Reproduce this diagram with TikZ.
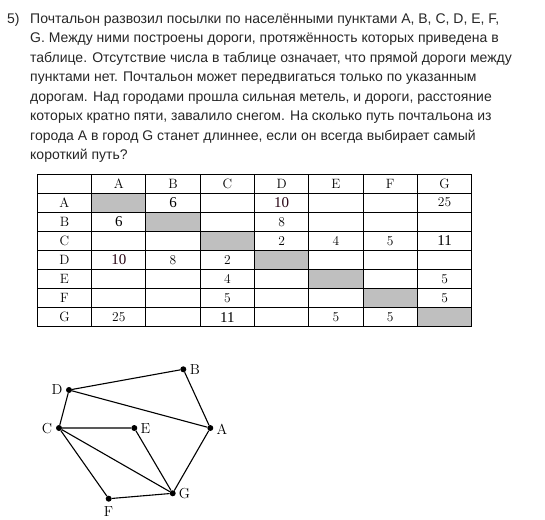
\documentclass[tikz,border=0pt]{standalone}
\usepackage{fontspec}
\setsansfont{Liberation Sans}
\newfontfamily\tnr{Liberation Serif}
\definecolor{maroonish}{RGB}{40,5,20}
\begin{document}
\begin{tikzpicture}[x=1pt,y=-1pt,
  qline/.style={anchor=base west,font=\sffamily\fontsize{14}{14}\selectfont,inner sep=0pt,text=black!85},
  cell/.style={font=\fontsize{13.5}{13.5}\selectfont,inner sep=0pt},
  bigcell/.style={font=\tnr\fontsize{15}{15}\selectfont,inner sep=0pt},
  vtx/.style={circle,fill=black,inner sep=0pt,minimum size=6pt},
  vlab/.style={font=\fontsize{14.5}{14.5}\selectfont,inner sep=0pt},
  edge/.style={line width=1.1pt},
  tline/.style={line width=0.9pt}]
\useasboundingbox (0,0) rectangle (545,519);
% question text
\node[qline] (num) at (7,23.3) {5)};
\node[qline] (l1) at (30,23.3) {Почтальон развозил посылки по населёнными пунктами A, B, C, D, E, F,};
\node[qline] (l2) at (30,42.8) {G. Между ними построены дороги, протяжённость которых приведена в};
\node[qline] (l3) at (30,62.3) {таблице. Отсутствие числа в таблице означает, что прямой дороги между};
\node[qline] (l4) at (30,81.8) {пунктами нет. Почтальон может передвигаться только по указанным};
\node[qline] (l5) at (30,101.3) {дорогам. Над городами прошла сильная метель, и дороги, расстояние};
\node[qline] (l6) at (30,120.8) {которых кратно пяти, завалило снегом. На сколько путь почтальона из};
\node[qline] (l7) at (30,140.3) {города A в город G станет длиннее, если он всегда выбирает самый};
\node[qline] (l8) at (30,159.8) {короткий путь?};
% table geometry
\def\tx{37.3}\def\ty{174}\def\cw{54.3}\def\rh{19.09}
% gray diagonal
\foreach \i in {1,...,7}{
  \fill[black!25] (\tx+\i*\cw,\ty+\i*\rh) rectangle (\tx+\i*\cw+\cw,\ty+\i*\rh+\rh);
}
% grid
\foreach \i in {0,...,8}{
  \draw[tline] (\tx+\i*\cw,\ty) -- (\tx+\i*\cw,\ty+8*\rh);
  \draw[tline] (\tx,\ty+\i*\rh) -- (\tx+8*\cw,\ty+\i*\rh);
}
% headers
\foreach \n [count=\i] in {A,B,C,D,E,F,G}{
  \node[cell] (h\n) at (\tx+\i*\cw+0.5*\cw,\ty+0.5*\rh) {\n};
  \node[cell] (r\n) at (\tx+0.5*\cw,\ty+\i*\rh+0.5*\rh) {\n};
}
% entries (col,row)
\newcommand\cellat[4]{\node[#4] (c#1#2) at (\tx+#1*\cw+0.5*\cw,\ty+#2*\rh+0.5*\rh) {#3};}
\cellat{2}{1}{6}{bigcell}
\cellat{4}{1}{10}{bigcell,text=maroonish}
\cellat{7}{1}{25}{cell}
\cellat{1}{2}{6}{bigcell}
\cellat{4}{2}{8}{cell}
\cellat{4}{3}{2}{cell}
\cellat{5}{3}{4}{cell}
\cellat{6}{3}{5}{cell}
\cellat{7}{3}{11}{bigcell}
\cellat{1}{4}{10}{bigcell,text=maroonish}
\cellat{2}{4}{8}{cell}
\cellat{3}{4}{2}{cell}
\cellat{3}{5}{4}{cell}
\cellat{7}{5}{5}{cell}
\cellat{3}{6}{5}{cell}
\cellat{7}{6}{5}{cell}
\cellat{1}{7}{25}{cell}
\cellat{3}{7}{11}{bigcell}
\cellat{5}{7}{5}{cell}
\cellat{6}{7}{5}{cell}
% graph
\node[vtx] (B) at (183.3,369.3) {};
\node[vtx] (D) at (69,390) {};
\node[vtx] (C) at (59,428) {};
\node[vtx] (E) at (134.3,428) {};
\node[vtx] (A) at (210.3,428) {};
\node[vtx] (G) at (172.7,493.3) {};
\node[vtx] (F) at (108.7,498.7) {};
\draw[edge] (D) -- (B) (D) -- (A) (B) -- (A) (D) -- (C) (C) -- (E)
  (C) -- (G) (C) -- (F) (E) -- (G) (A) -- (G) (F) -- (G);
\node[vlab] (lB) at (195,369.5) {B};
\node[vlab] (lD) at (57,390) {D};
\node[vlab] (lC) at (47,428.5) {C};
\node[vlab] (lE) at (145.5,428.5) {E};
\node[vlab] (lA) at (222,429) {A};
\node[vlab] (lG) at (184.5,494) {G};
\node[vlab] (lF) at (108.5,511.5) {F};
\end{tikzpicture}
\end{document}
